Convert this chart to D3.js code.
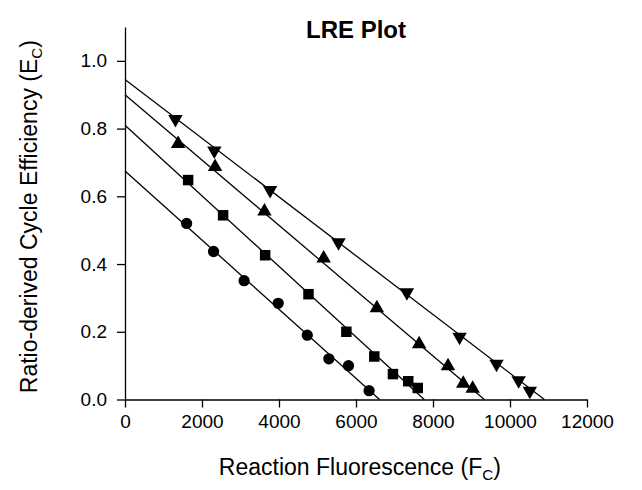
<!DOCTYPE html>
<html>
<head>
<meta charset="utf-8">
<title>LRE Plot</title>
<script src="https://cdn.jsdelivr.net/npm/d3@7"></script>
<style>
    body { margin: 0; background: white; }
    svg text { font-family: "Liberation Sans", Arial, sans-serif; fill: black; }
</style>
</head>
<body>
<div id="chartdiv"></div>
<script>
/*global d3 */

////////////////////////////////////////
// data
////////////////////////////////////////

var seriesNames = ["circle", "square", "triangle", "invtriangle"];

var circleFc = [1600, 2300, 3094, 3980, 4735, 5295, 5805, 6340];
var circleEc = [0.520, 0.437, 0.351, 0.284, 0.190, 0.120, 0.100, 0.026];

var squareFc = [1640, 2548, 3640, 4766, 5750, 6475, 6960, 7357, 7604];
var squareEc = [0.648, 0.544, 0.426, 0.311, 0.200, 0.127, 0.075, 0.054, 0.034];

var triangleFc = [1380, 2340, 3622, 5160, 6542, 7640, 8390, 8785, 9030];
var triangleEc = [0.755, 0.687, 0.556, 0.417, 0.270, 0.164, 0.099, 0.047, 0.032];

var invTriangleFc = [1310, 2320, 3769, 5546, 7322, 8690, 9650, 10225, 10515];
var invTriangleEc = [0.828, 0.735, 0.618, 0.464, 0.316, 0.185, 0.105, 0.056, 0.025];

// regression lines: Ec at Fc = 0, and Fc where Ec reaches 0
var fitEcIntercepts = [0.675, 0.810, 0.900, 0.945];
var fitFcIntercepts = [6612, 7773, 9333, 10893];

var xTicks = [0, 2000, 4000, 6000, 8000, 10000, 12000];
var yTicks = [0.0, 0.2, 0.4, 0.6, 0.8, 1.0];


(function () {
    "use strict";

    var width = 642, height = 490,
        margin = {left: 125, right: 55, top: 27, bottom: 90.5},
        svg, x, y, g, series,

    symbolFor = function (name) {
        if(name === "circle") {
            return d3.symbol().type(d3.symbolCircle).size(100); }
        if(name === "square") {
            return d3.symbol().type(d3.symbolSquare).size(110); }
        return d3.symbol().type(d3.symbolTriangle).size(90);
    },

    addSubscriptLabel = function (sel, main, sub, tail) {
        sel.append("tspan").text(main);
        sel.append("tspan").attr("font-size", "0.66em")
            .attr("dy", "0.35em").text(sub);
        sel.append("tspan").attr("dy", "-0.23em").text(tail);
    };

    series = [
        {name: seriesNames[0], fc: circleFc, ec: circleEc},
        {name: seriesNames[1], fc: squareFc, ec: squareEc},
        {name: seriesNames[2], fc: triangleFc, ec: triangleEc},
        {name: seriesNames[3], fc: invTriangleFc, ec: invTriangleEc}];

    svg = d3.select("#chartdiv").append("svg")
        .attr("width", width).attr("height", height);

    x = d3.scaleLinear().domain([0, 12000])
        .range([margin.left, width - margin.right]);
    y = d3.scaleLinear().domain([0, 1.1])
        .range([height - margin.bottom, margin.top]);

    // axes
    g = svg.append("g")
        .attr("transform", "translate(0," + y(0) + ")")
        .call(d3.axisBottom(x).tickValues(xTicks).tickFormat(d3.format("d"))
              .tickSizeInner(8).tickSizeOuter(0).tickPadding(7));
    g.selectAll("text").style("font-size", "19px");

    g = svg.append("g")
        .attr("transform", "translate(" + x(0) + ",0)")
        .call(d3.axisLeft(y).tickValues(yTicks).tickFormat(d3.format(".1f"))
              .tickSizeInner(8).tickSizeOuter(0).tickPadding(10));
    g.selectAll("text").style("font-size", "19px");

    svg.selectAll(".domain, .tick line")
        .attr("stroke", "black").attr("stroke-width", 1.3);

    // fitted lines
    svg.append("g").selectAll("line")
        .data(fitEcIntercepts)
        .enter().append("line")
        .attr("x1", x(0))
        .attr("y1", function (d) { return y(d); })
        .attr("x2", function (d, i) { return x(fitFcIntercepts[i]); })
        .attr("y2", y(0))
        .attr("stroke", "black").attr("stroke-width", 1.3);

    // markers
    series.forEach(function (s) {
        svg.append("g").selectAll("path")
            .data(s.fc)
            .enter().append("path")
            .attr("d", symbolFor(s.name))
            .attr("transform", function (d, i) {
                var t = "translate(" + x(d) + "," + y(s.ec[i]) + ")";
                if(s.name === "invtriangle") {
                    t += " rotate(180)"; }
                return t; })
            .attr("fill", "black");
    });

    // titles
    svg.append("text")
        .attr("x", x(6000)).attr("y", 38)
        .attr("text-anchor", "middle")
        .style("font-size", "24px").style("font-weight", "bold")
        .text("LRE Plot");

    addSubscriptLabel(
        svg.append("text")
            .attr("x", x(6100)).attr("y", 475)
            .attr("text-anchor", "middle")
            .style("font-size", "23px"),
        "Reaction Fluorescence (F", "C", ")");

    addSubscriptLabel(
        svg.append("text")
            .attr("transform", "translate(37," + y(0.54) + ") rotate(-90)")
            .attr("text-anchor", "middle")
            .style("font-size", "23px"),
        "Ratio-derived Cycle Efficiency (E", "C", ")");
}());
</script>
</body>
</html>
